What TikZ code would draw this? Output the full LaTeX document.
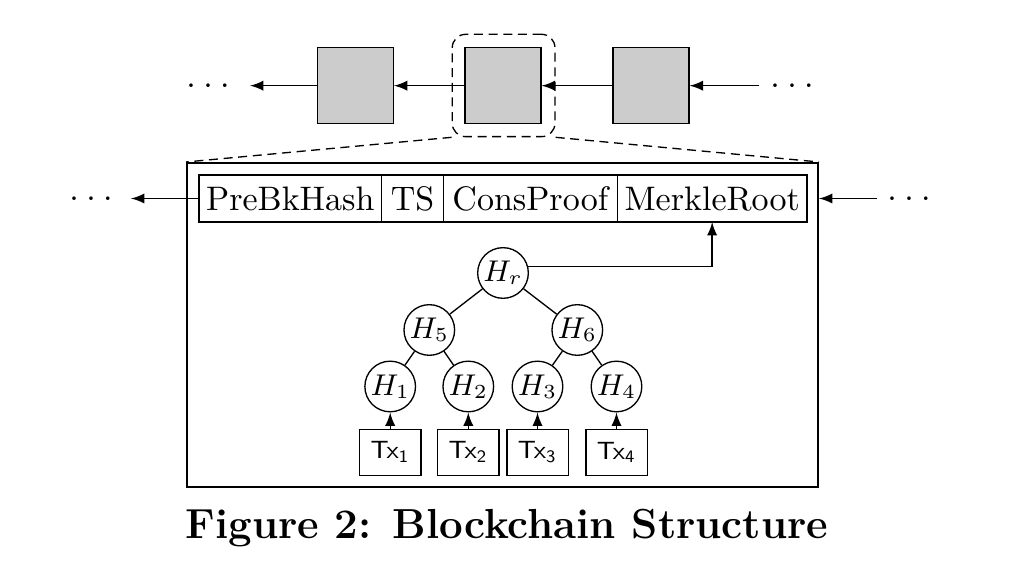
\documentclass[tikz,border=0pt]{standalone}
\usepackage{tikz}
\usetikzlibrary{positioning}

\begin{document}
\begin{tikzpicture}
[x=0.3pt, y=-0.3pt,
 nodeBlk/.style={draw, fill=gray!40, minimum size=22.8pt, inner sep=0pt},
 nodeCell/.style={draw, outer sep=0pt, inner sep=0pt, minimum height=14.1pt,
   text height=7.1pt, text depth=0pt, font=\fontsize{10.2}{12}\selectfont},
 nodeHash/.style={draw, circle, minimum size=14.4pt, inner sep=0.5pt,
   font=\fontsize{9.2}{11}\selectfont},
 nodeTx/.style={draw, minimum width=18.4pt, minimum height=13.8pt,
   inner sep=0pt, font=\sffamily\fontsize{7.5}{9}\selectfont},
 nodeDots/.style={inner sep=0pt, font=\fontsize{10.2}{12}\selectfont},
 zoomLine/.style={dash pattern=on 2.7pt off 1.7pt}
]
\useasboundingbox (0,0) rectangle (1013,569);
% chain of blocks
\node[nodeBlk] (blk1) at (355.3, 85.7) {};
\node[nodeBlk] (blk2) at (503,   85.7) {};
\node[nodeBlk] (blk3) at (651,   85.7) {};
\node[draw, zoomLine, rounded corners=4pt, minimum width=30.8pt,
  minimum height=30.7pt] (focus) at (503.6, 85.5) {};
\node[nodeDots] (dotsTL) at (208, 85.7) {.\hspace{2.2pt}.\hspace{2.2pt}.};
\node[nodeDots] (dotsTR) at (792, 85.7) {.\hspace{2.2pt}.\hspace{2.2pt}.};
\coordinate (outTL) at (250, 85.7);
\coordinate (inTR)  at (759, 85.7);
\draw[-latex] (blk1) -- (outTL);
\draw[-latex] (blk2) -- (blk1);
\draw[-latex] (blk3) -- (blk2);
\draw[-latex] (inTR) -- (blk3);
% block body
\node[draw, semithick, minimum width=189.3pt, minimum height=97.2pt]
  (body) at (502.5, 325) {};
\draw[zoomLine] (focus.south west) -- (body.north west);
\draw[zoomLine] (focus.south east) -- (body.north east);
\node[nodeCell, minimum width=54.8pt, anchor=west] (cPre) at (199, 198.5)
  {PreBkHash};
\node[nodeCell, minimum width=18.5pt, right=0pt of cPre]  (cTS)     {TS};
\node[nodeCell, minimum width=52.2pt, right=0pt of cTS]   (cCons)   {ConsProof};
\node[nodeCell, minimum width=56.9pt, right=0pt of cCons] (cMerkle) {MerkleRoot};
\node[nodeDots] (dotsHL) at (91,  198.5) {.\hspace{2.2pt}.\hspace{2.2pt}.};
\node[nodeDots] (dotsHR) at (909, 198.5) {.\hspace{2.2pt}.\hspace{2.2pt}.};
\coordinate (outHL) at (131, 198.5);
\coordinate (inHR)  at (877, 198.5);
\draw[-latex] (cPre) -- (outHL);
\draw[-latex] (inHR) -- (inHR -| body.east);
% merkle tree
\node[nodeHash] (Hr) at (503,   273)   {$H_r$};
\node[nodeHash] (H5) at (429.3, 330)   {$H_5$};
\node[nodeHash] (H6) at (577.3, 330)   {$H_6$};
\node[nodeHash] (H1) at (390.2, 386.5) {$H_1$};
\node[nodeHash] (H2) at (468.3, 386.5) {$H_2$};
\node[nodeHash] (H3) at (537.5, 386.5) {$H_3$};
\node[nodeHash] (H4) at (616.5, 386.5) {$H_4$};
\node[nodeTx] (tx1) at (390.2, 452.3) {Tx\textsubscript{1}};
\node[nodeTx] (tx2) at (468.3, 452.3) {Tx\textsubscript{2}};
\node[nodeTx] (tx3) at (537.5, 452.3) {Tx\textsubscript{3}};
\node[nodeTx] (tx4) at (616.5, 452.3) {Tx\textsubscript{4}};
\draw (Hr) -- (H5);
\draw (Hr) -- (H6);
\draw (H5) -- (H1);
\draw (H5) -- (H2);
\draw (H6) -- (H3);
\draw (H6) -- (H4);
\draw[-latex] (tx1) -- (H1);
\draw[-latex] (tx2) -- (H2);
\draw[-latex] (tx3) -- (H3);
\draw[-latex] (tx4) -- (H4);
\draw[-latex] (Hr.15) -| (cMerkle);
\node[font=\bfseries\fontsize{12.6}{15}\selectfont, anchor=base] (caption)
  at (507, 539) {Figure 2: Blockchain Structure};
\end{tikzpicture}
\end{document}
